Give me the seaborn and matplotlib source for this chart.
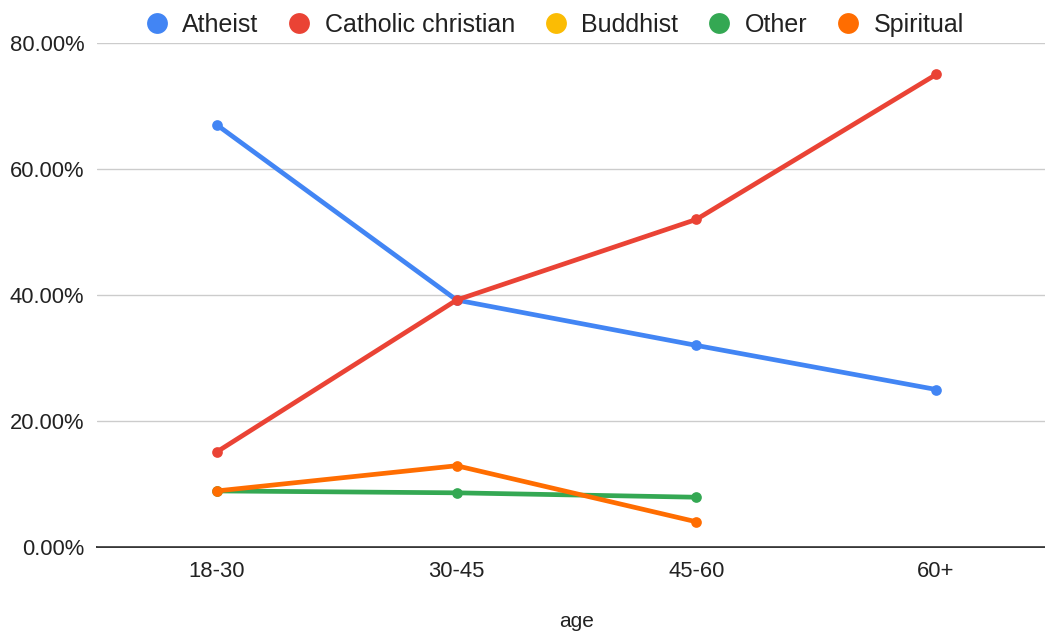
import numpy as np
import pandas as pd
import matplotlib
matplotlib.use("Agg")
import matplotlib.pyplot as plt
from matplotlib.lines import Line2D
from matplotlib.ticker import FuncFormatter
import seaborn as sns

# Share of each belief group per age band (percent)
ages = ["18-30", "30-45", "45-60", "60+"]
atheist = [67.0, 39.2, 32.0, 25.0]
catholic = [15.1, 39.2, 52.0, 75.0]
buddhist = [np.nan, np.nan, np.nan, np.nan]
other = [8.9, 8.6, 7.9, np.nan]
spiritual = [8.9, 12.9, 4.0, np.nan]

series_names = ["Atheist", "Catholic christian", "Buddhist", "Other", "Spiritual"]
series_values = [atheist, catholic, buddhist, other, spiritual]
colors = ["#4285F4", "#EA4335", "#FBBC04", "#34A853", "#FF6D01"]

sns.set_theme(style="white")
plt.rcParams["font.family"] = ["Liberation Sans", "DejaVu Sans"]

fig = plt.figure(figsize=(10.45, 6.32), dpi=100)
ax = fig.add_axes([97 / 1045, 85 / 632, 959 / 1045, 504 / 632])

for name, vals, col in zip(series_names, series_values, colors):
    df = pd.DataFrame({"age": ages, "share": vals}).dropna()
    if df.empty:
        continue
    sns.lineplot(data=df, x="age", y="share", ax=ax, color=col, lw=3.4,
                 marker="o", markersize=7.7, markeredgewidth=0, sort=False)

ax.set_xlim(-0.5, 3.5)
ax.set_ylim(0, 80)
ax.set_yticks([0, 20, 40, 60, 80])
ax.yaxis.set_major_formatter(FuncFormatter(lambda v, p: f"{v:.2f}%"))
ax.grid(axis="y", color="#cccccc", lw=1.0)
ax.grid(axis="x", visible=False)
ax.set_axisbelow(True)
for s in ["top", "right", "left"]:
    ax.spines[s].set_visible(False)
ax.spines["bottom"].set_color("#333333")
ax.spines["bottom"].set_linewidth(1.4)
ax.spines["bottom"].set_zorder(0.5)
ax.tick_params(axis="both", length=0, labelsize=15.8, colors="#222222")
ax.tick_params(axis="y", pad=9)
ax.tick_params(axis="x", pad=10)
ax.set_ylabel("")
ax.set_xlabel("age", fontsize=15, color="#222222", labelpad=22)

handles = [Line2D([], [], ls="none", marker="o", markersize=15, color=c,
                  markeredgewidth=0) for c in colors]
fig.legend(handles, series_names, loc="center", bbox_to_anchor=(555 / 1045, 1 - 25 / 632),
           ncol=5, frameon=False, fontsize=18, handlelength=0.85,
           handletextpad=0.6, columnspacing=1.2, labelcolor="#222222")

fig.savefig("out.png", dpi=100)
